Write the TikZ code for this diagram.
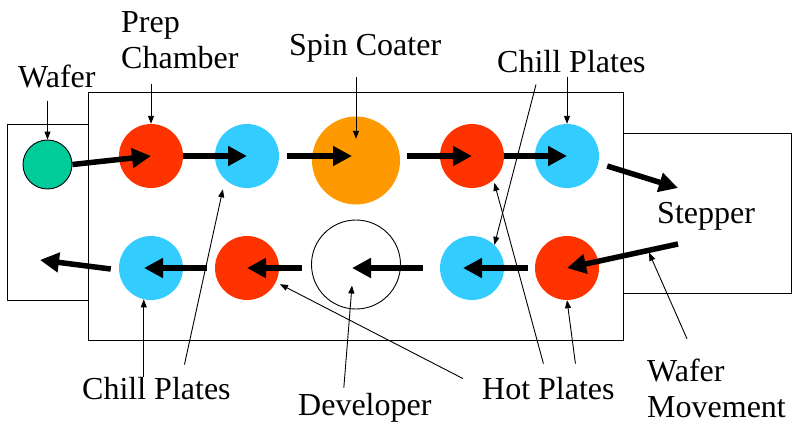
\documentclass[tikz,border=0pt]{standalone}
\usepackage{fontspec}
\setmainfont{Liberation Serif}
\usetikzlibrary{positioning, calc, arrows.meta}

\definecolor{hotred}{HTML}{FF3300}
\definecolor{chillblue}{HTML}{33CCFF}
\definecolor{coatorange}{HTML}{FF9900}
\definecolor{wafergreen}{HTML}{00CC99}

\begin{document}
\begin{tikzpicture}[
  x=1pt, y=-1pt,
  box/.style   = {draw, line width=1pt, inner sep=0pt},
  plate/.style = {circle, inner sep=0pt, minimum size=64pt},
  hot/.style   = {plate, fill=hotred},
  chill/.style = {plate, fill=chillblue},
  bowl/.style  = {circle, inner sep=0pt, minimum size=88pt},
  lbl/.style   = {inner sep=0pt, font=\fontsize{32}{36}\selectfont, align=left},
  flow/.style  = {-{Triangle[length=19pt,width=19pt]}, line width=5.5pt},
  ptr/.style   = {-{Triangle[length=8pt,width=6pt]}, line width=0.9pt},
]
\useasboundingbox (0,0) rectangle (792,424);

% ---- the track and its two ends ---------------------------------------------
\node[box, minimum width=535pt, minimum height=248pt] (track)   at (355.5,216) {};
\node[box, minimum width=81pt,  minimum height=176pt] (loader)  at (47.5,212)  {};
\node[box, minimum width=168pt, minimum height=160pt] (stepper) at (707,213)   {};

% ---- upper row: coat side ---------------------------------------------------
\node[plate, draw, fill=wafergreen, minimum size=49pt, line width=0.9pt] (wafer) at (47.5,164.5) {};
\node[hot]   (prep)  at (151,156) {};
\node[chill] (cool1) at (247,156) {};
\node[bowl, fill=coatorange] (spin) at (356,160.5) {};
\node[hot]   (bake1) at (472,156) {};
\node[chill] (cool2) at (567,156) {};

% ---- lower row: develop side ------------------------------------------------
\node[hot]   (bake2) at (567,268) {};
\node[chill] (cool3) at (472,268) {};
\node[bowl, draw, line width=0.9pt, minimum size=89pt] (dev) at (356,264.5) {};
\node[hot]   (bake3) at (247,268) {};
\node[chill] (cool4) at (151,268) {};

\coordinate (stepin)  at (678,188);
\coordinate (stepout) at (678,244);
\coordinate (exit)    at (40,260);

% ---- wafer path -------------------------------------------------------------
\draw[flow] (wafer.east) -- (prep.center);
\draw[flow] (prep.east) -- (cool1.center);
\draw[flow] ($(cool1.east)+(8,0)$) -- ($(spin.center)+(-4,-4.5)$);
\draw[flow] ($(spin.east)+(7,-4.5)$) -- (bake1.center);
\draw[flow] (bake1.east) -- (cool2.center);
\draw[flow] ($(cool2.east)+(8,10)$) -- (stepin);
\draw[flow] (stepout) -- coordinate[pos=0.27] (hand) (bake2.center);
\draw[flow] ($(bake2.west)+(-7,0)$) -- ($(cool3.center)+(-9,0)$);
\draw[flow] ($(cool3.west)+(-17,0)$) -- ($(dev.center)+(-4,3.5)$);
\draw[flow] ($(dev.west)+(-9,3.5)$) -- (bake3.center);
\draw[flow] ($(bake3.west)+(-8,0)$) -- ($(cool4.center)+(-7,0)$);
\draw[flow] ($(cool4.west)+(-8,1)$) -- (exit);

% ---- labels -----------------------------------------------------------------
\node[lbl, anchor=base west]  (lwafer)    at (18,87)   {Wafer};
\node[lbl, anchor=south west] (lprep)     at (121,69)  {Prep\\Chamber};
\node[lbl, anchor=base west]  (lspin)     at (289,55)  {Spin Coater};
\node[lbl, anchor=base west]  (lchilltop) at (497,72)  {Chill Plates};
\node[lbl, anchor=base west]  (lstepper)  at (657,223) {Stepper};
\node[lbl, anchor=base west]  (lchillbot) at (82,399)  {Chill Plates};
\node[lbl, anchor=base west]  (ldev)      at (298,415) {Developer};
\node[lbl, anchor=base west]  (lhot)      at (482,399) {Hot Plates};
\node[lbl, anchor=south west] (lmove)     at (647,418) {Wafer\\Movement};

% ---- pointers ---------------------------------------------------------------
\draw[ptr, shorten <=13pt] (lwafer.south -| wafer) -- (wafer.north);
\draw[ptr, shorten <=15pt] (lprep.south -| prep) -- (prep.north);
\draw[ptr, shorten <=15pt] (lspin.south -| spin) -- ($(spin.north)+(0,22.5)$);
\draw[ptr, shorten <=4pt]  (lchilltop.south -| cool2) -- (cool2.north);
\draw[ptr] ($(lchilltop.south west)+(39,12)$) -- (cool3.46);
\draw[ptr] (lchillbot.north -| cool4.257) -- (cool4.257);
\draw[ptr, shorten >=10pt] ($(lchillbot.north)+(28,-12)$) -- (cool1.227);
\draw[ptr] ($(ldev.north)+(-21,-5)$) -- ($(dev.center)+(-4,21)$);
\draw[ptr, shorten >=4.5pt] ($(lhot.north west)+(-19,2)$) -- (bake3.334);
\draw[ptr, shorten >=3pt] ($(lhot.north)+(-5,-13)$) -- (bake1.312);
\draw[ptr] ($(lhot.north)+(27,-13)$) -- (bake2.south);
\draw[ptr, shorten >=2.5pt] ($(lmove.north west)+(40,-20)$) -- (hand);

\end{tikzpicture}
\end{document}
